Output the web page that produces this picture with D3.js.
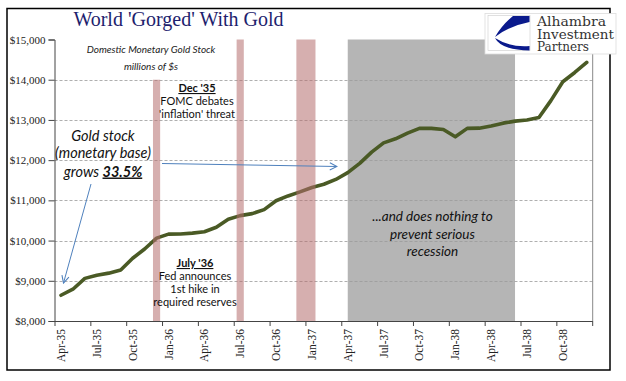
<!DOCTYPE html>
<html><head><meta charset="utf-8">
<script src="https://cdn.jsdelivr.net/npm/d3@7"></script>
<style>
html,body{margin:0;padding:0;background:#fff;}
svg{display:block;}
</style></head>
<body>
<svg id="chart" width="626" height="381"></svg>
<script>
// ---- data ----
const months = ["Apr-35","May-35","Jun-35","Jul-35","Aug-35","Sep-35","Oct-35","Nov-35","Dec-35",
  "Jan-36","Feb-36","Mar-36","Apr-36","May-36","Jun-36","Jul-36","Aug-36","Sep-36","Oct-36","Nov-36","Dec-36",
  "Jan-37","Feb-37","Mar-37","Apr-37","May-37","Jun-37","Jul-37","Aug-37","Sep-37","Oct-37","Nov-37","Dec-37",
  "Jan-38","Feb-38","Mar-38","Apr-38","May-38","Jun-38","Jul-38","Aug-38","Sep-38","Oct-38","Nov-38","Dec-38"];
const goldStock = [8640,8790,9060,9140,9190,9270,9560,9790,10060,
  10160,10165,10185,10220,10330,10530,10620,10670,10770,10990,11110,11210,
  11320,11400,11520,11690,11920,12200,12430,12530,12670,12790,12790,12760,
  12580,12790,12795,12850,12920,12970,13000,13060,13480,13950,14180,14430];
const yTicks = [8000,9000,10000,11000,12000,13000,14000,15000];
const xTickLabels = months.filter((d,i)=>i%3===0);
const policyStart = ["Dec-35","Jul-36","Dec-36"];
const policyEnd   = ["Dec-35","Jul-36","Jan-37"];
const policyTop   = [14000,15000,15000];
const recessionStart = "Apr-37", recessionEnd = "Jun-38", recessionTop = 15000;

const svg = d3.select("#chart");
const L = 54.5, R = 592.7, T = 39.5, B = 321;
const x = d3.scaleBand().domain(months).range([55, R]).padding(0);
const y = d3.scaleLinear().domain([8000,15000]).range([B, T]);
const bw = x.bandwidth();
const cx = d => x(d) + bw/2;

// outer frame
svg.append("rect").attr("x",7).attr("y",8.5).attr("width",603).attr("height",361.5)
  .attr("fill","#fff").attr("stroke","#000").attr("stroke-width",1.5);

// recession shading (area between category centres)
svg.append("rect")
  .attr("x", cx(recessionStart)).attr("y", y(recessionTop))
  .attr("width", cx(recessionEnd)-cx(recessionStart)).attr("height", y(8000)-y(recessionTop))
  .attr("fill","#b5b5b5");

// gridlines
svg.append("g").selectAll("line").data(yTicks.filter(d=>d>8000 && d<15000)).join("line")
  .attr("x1",L).attr("x2",R).attr("y1",d=>Math.round(y(d))+0.5).attr("y2",d=>Math.round(y(d))+0.5)
  .attr("stroke","#9a9a9a").attr("stroke-width",0.8).attr("stroke-dasharray","3,2");

// line
const line = d3.line().x((d,i)=>cx(months[i])).y(d=>y(d)).curve(d3.curveLinear);
svg.append("path").datum(goldStock).attr("d",line)
  .attr("fill","none").attr("stroke","#4a5a25").attr("stroke-width",3.6)
  .attr("stroke-linejoin","round").attr("stroke-linecap","round");

// policy bars (semi-transparent columns)
const inset = bw*0.2;
svg.append("g").selectAll("rect").data(policyStart).join("rect")
  .attr("x",(d,i)=>x(d)+inset)
  .attr("width",(d,i)=>x(policyEnd[i])+bw-inset-(x(d)+inset))
  .attr("y",(d,i)=>y(policyTop[i]))
  .attr("height",(d,i)=>y(8000)-y(policyTop[i]))
  .attr("fill","#b46e6e").attr("fill-opacity",0.55);

// axes
const yAxis = svg.append("g").attr("transform",`translate(${L},0)`)
  .call(d3.axisLeft(y).tickValues(yTicks).tickSize(6).tickPadding(3)
    .tickFormat(d=>"$"+d3.format(",")(d)));
yAxis.select(".domain").attr("stroke","#444");
yAxis.selectAll(".tick line").attr("stroke","#444");
yAxis.selectAll("text").attr("font-family","'Liberation Serif', serif").attr("font-size",11).attr("fill","#222");

// x axis line
svg.append("line").attr("x1",L).attr("x2",R).attr("y1",B+0.5).attr("y2",B+0.5).attr("stroke","#444");
// ticks at category boundaries every 3 months, plus the end
const tickPos = months.filter((d,i)=>i%3===0).map(d=>x(d)).concat([R]);
svg.append("g").selectAll("line").data(tickPos).join("line")
  .attr("x1",d=>d).attr("x2",d=>d).attr("y1",B).attr("y2",B+5).attr("stroke","#444");
svg.append("g").selectAll("text").data(xTickLabels).join("text")
  .attr("transform",d=>`translate(${cx(d)+4},${B+8}) rotate(-90)`)
  .attr("text-anchor","end")
  .attr("font-family","'Liberation Serif', serif").attr("font-size",11.5).attr("fill","#222")
  .text(d=>d);
// secondary (right) axis line
svg.append("line").attr("x1",R).attr("x2",R).attr("y1",T).attr("y2",B).attr("stroke","#888");

// arrows
const defs = svg.append("defs");
defs.append("marker").attr("id","arr").attr("viewBox","0 0 10 10").attr("refX",9).attr("refY",5)
  .attr("markerWidth",9).attr("markerHeight",9).attr("orient","auto").attr("markerUnits","userSpaceOnUse")
  .append("path").attr("d","M1,1 L9,5 L1,9").attr("fill","none").attr("stroke","#4f81bd").attr("stroke-width",1.2);
svg.append("line").attr("x1",91).attr("y1",184).attr("x2",63.5).attr("y2",283)
  .attr("stroke","#4f81bd").attr("stroke-width",1).attr("marker-end","url(#arr)");
svg.append("line").attr("x1",162).attr("y1",163.5).attr("x2",337).attr("y2",166.5)
  .attr("stroke","#4f81bd").attr("stroke-width",1).attr("marker-end","url(#arr)");

// texts
const sans = "Lato, 'Open Sans', sans-serif";
function txt(xp, yp, s, size, opts={}) {
  const t = svg.append("text").attr("x",xp).attr("y",yp).attr("text-anchor","middle")
    .attr("font-family",opts.family||sans).attr("font-size",size).attr("fill",opts.fill||"#111");
  if (opts.italic) t.attr("font-style","italic");
  if (opts.bold) t.attr("font-weight","bold");
  if (opts.underline) t.attr("text-decoration","underline");
  t.text(s);
  return t;
}
// title
txt(178.5, 26, "World 'Gorged' With Gold", 20, {family:"'Liberation Serif', serif", fill:"#1e1e6e"});
// subtitle
txt(151, 53, "Domestic Monetary Gold Stock", 10, {italic:true, fill:"#222"});
txt(151, 70, "millions of $s", 10, {italic:true, fill:"#222"});
// Dec '35
txt(197, 92, "Dec '35", 11, {bold:true, underline:true});
txt(197, 105, "FOMC debates", 11);
txt(197, 117.5, "'inflation' threat", 11);
// Gold stock
txt(103, 141, "Gold stock", 14.5, {italic:true});
txt(103, 158, "(monetary base)", 14.5, {italic:true});
const g3 = svg.append("text").attr("x",103).attr("y",176.5).attr("text-anchor","middle")
  .attr("font-family",sans).attr("font-size",14.5).attr("font-style","italic").attr("fill","#111");
g3.append("tspan").text("grows ");
g3.append("tspan").attr("font-weight","bold").attr("text-decoration","underline").text("33.5%");
// July '36
txt(195, 267, "July '36", 11, {bold:true, underline:true});
txt(195, 280, "Fed announces", 11);
txt(195, 293, "1st hike in", 11);
txt(195, 306, "required reserves", 11);
// recession text
txt(432.5, 221, "...and does nothing to", 13.5, {italic:true});
txt(432.5, 238.5, "prevent serious", 13.5, {italic:true});
txt(432.5, 256, "recession", 13.5, {italic:true});

// logo box
svg.append("rect").attr("x",485).attr("y",13.5).attr("width",131).attr("height",40.5)
  .attr("fill","#fff").attr("stroke","#ddd").attr("stroke-width",0.8);
svg.append("rect").attr("x",488).attr("y",15.5).attr("width",42).attr("height",35)
  .attr("fill","#fff").attr("stroke","#ccc").attr("stroke-width",0.6);
svg.append("path").attr("d","M529.5,16 L513,16 Q502,25 495,37 Q509,26 529.5,22 Z").attr("fill","#0a1a8c");
svg.append("path").attr("d","M495,38 Q501,50 529.5,50.5 L529.5,46 Q510,47.5 495,38 Z").attr("fill","#0a1a8c");
const serif = "'DejaVu Serif', serif";
const logoLines = [["Alhambra",26,69],["Investment",38.5,77],["Partners",51,52]];
logoLines.forEach(([s,yy,w]) => {
  svg.append("text").attr("x",537).attr("y",yy).attr("font-family",serif).attr("font-size",12)
    .attr("textLength",w).attr("lengthAdjust","spacingAndGlyphs").attr("fill","#333").text(s);
});
</script>
</body></html>
